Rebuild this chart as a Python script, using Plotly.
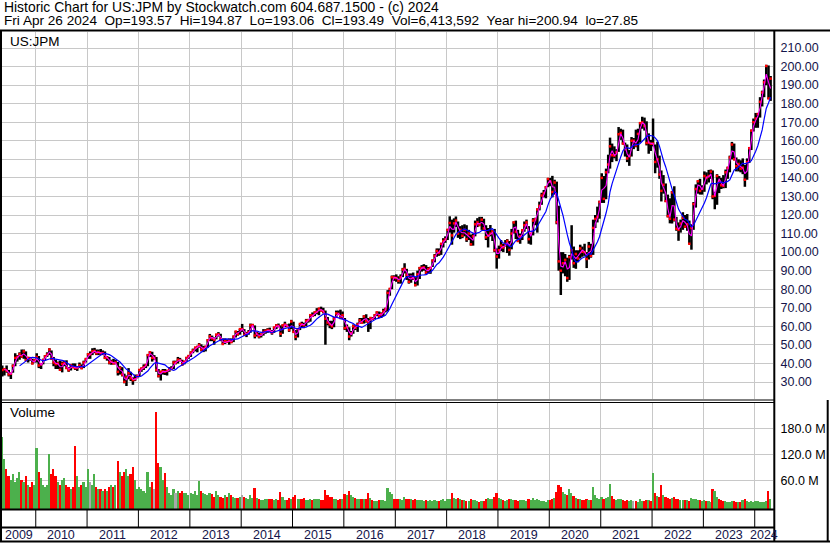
import plotly.graph_objects as go
import pandas as pd
from datetime import datetime

# ---------------- DATA (semi-monthly bars, May 2009 .. Apr 2024) ----------------
close = [
    36.5, 36.9, 36.0, 34.1, 34.5, 38.7, 43.0, 43.5, 45.0, 43.8, 46.5, 41.8, 43.0, 42.5, 40.0, 41.7,  # 2009
    43.5, 38.9, 39.5, 41.9, 43.8, 44.75, 47.5, 42.6, 40.5, 39.6, 40.0, 36.6, 39.8, 40.3, 37.5, 36.4, 39.0, 38.0, 37.5, 37.6, 39.0, 37.4, 40.5, 42.4,  # 2010
    44.9, 44.9, 46.5, 46.7, 45.5, 46.1, 45.5, 45.6, 43.0, 43.2, 40.5, 40.9, 40.0, 40.5, 35.5, 37.6, 34.0, 30.1, 32.5, 34.8, 32.0, 31.0, 31.5, 33.2,  # 2011
    36.5, 37.3, 38.0, 39.2, 44.5, 46.0, 43.0, 43.0, 36.5, 33.2, 35.5, 35.7, 35.5, 36.0, 37.0, 37.1, 40.5, 40.5, 42.0, 41.7, 39.5, 41.0, 43.0, 44.0,  # 2012
    45.9, 47.0, 48.5, 48.9, 50.0, 47.5, 48.0, 49.0, 52.5, 54.6, 53.5, 52.8, 55.5, 55.7, 53.0, 50.5, 52.0, 51.7, 52.5, 51.5, 54.5, 57.2, 55.8, 58.5,  # 2013
    58.5, 55.4, 56.0, 56.8, 60.5, 60.7, 55.0, 56.0, 54.5, 55.6, 57.0, 57.6, 58.0, 57.7, 56.5, 59.4, 60.5, 60.2, 56.0, 60.5, 61.0, 60.2, 58.0, 62.6,  # 2014
    57.0, 54.4, 58.5, 61.3, 61.0, 60.6, 63.0, 63.3, 66.0, 65.8, 67.5, 67.8, 69.5, 68.5, 68.0, 64.1, 62.0, 61.0, 60.0, 64.2, 67.0, 66.7, 64.5, 66.0,  # 2015
    59.0, 59.5, 54.5, 56.3, 60.0, 59.2, 61.0, 63.2, 62.0, 65.3, 63.0, 62.1, 64.5, 64.0, 66.0, 67.5, 65.5, 66.6, 68.0, 69.3, 78.0, 80.2, 86.5, 86.3,  # 2016
    86.0, 84.6, 86.5, 90.6, 91.0, 87.8, 84.0, 87.0, 86.0, 82.2, 88.0, 91.4, 91.5, 91.8, 89.0, 90.9, 91.5, 95.5, 98.0, 100.6, 99.5, 104.5, 106.0, 106.9,  # 2017
    112.0, 115.7, 109.0, 115.5, 117.0, 110.0, 112.0, 108.8, 112.0, 107.0, 110.0, 104.2, 108.5, 115.0, 116.0, 114.6, 117.5, 112.8, 108.0, 109.0, 110.0, 111.2, 101.0, 97.6,  # 2018
    101.0, 103.5, 102.5, 104.4, 106.0, 101.2, 110.0, 116.0, 111.0, 106.0, 108.5, 111.8, 114.5, 116.0, 107.0, 109.9, 117.0, 117.7, 123.0, 124.9, 130.5, 131.8, 135.0, 139.4,  # 2019
    138.0, 132.4, 137.5, 116.1, 95.0, 90.0, 94.0, 95.8, 86.0, 97.3, 101.0, 94.0, 99.0, 96.6, 102.0, 100.2, 100.0, 96.3, 103.0, 98.0, 113.0, 117.9, 119.0, 127.0,  # 2020
    140.0, 128.7, 143.0, 147.2, 157.0, 152.2, 152.0, 153.8, 163.5, 164.2, 158.5, 155.5, 150.5, 151.8, 160.0, 160.0, 157.5, 163.7, 169.5, 169.9, 168.0, 158.8, 159.0, 158.4,  # 2021
    158.5, 148.6, 150.0, 141.8, 133.0, 136.3, 127.5, 119.4, 118.0, 132.2, 117.5, 112.6, 112.0, 115.4, 118.5, 113.7, 115.0, 104.5, 113.0, 125.9, 134.0, 138.2, 133.0, 134.1,  # 2022
    141.0, 140.0, 141.0, 143.4, 130.0, 130.3, 141.0, 138.2, 136.0, 135.7, 143.0, 145.4, 151.0, 158.0, 150.0, 146.3, 147.5, 145.0, 145.5, 139.0, 148.5, 156.0, 165.5, 170.0,  # 2023
    172.0, 174.4, 181.0, 186.0, 191.5, 200.3, 182.8, 193.5,  # 2024
]
high = [
    38.9, 37.5, 38.9, 36.5, 35.0, 39.5, 45.5, 44.5, 46.0, 47.5, 47.5, 46.5, 43.5, 43.5, 42.5, 42.5,  # 2009
    45.5, 44.0, 40.0, 42.5, 44.5, 46.0, 48.2, 47.0, 43.5, 42.0, 41.0, 41.5, 41.0, 41.5, 41.7, 38.0, 39.5, 40.0, 40.0, 38.5, 40.5, 39.5, 41.5, 42.7,  # 2010
    45.5, 46.5, 48.2, 48.4, 47.5, 47.5, 47.8, 47.0, 46.5, 44.0, 43.5, 42.0, 42.5, 42.0, 40.8, 38.5, 38.0, 34.5, 33.5, 37.5, 35.5, 32.5, 34.0, 34.0,  # 2011
    37.0, 37.8, 39.5, 39.5, 45.0, 46.5, 46.3, 44.5, 43.5, 37.0, 36.0, 37.0, 37.0, 36.5, 38.0, 38.5, 41.5, 41.5, 43.5, 43.0, 42.0, 41.3, 43.5, 44.5,  # 2012
    46.5, 48.0, 49.0, 49.5, 51.0, 50.3, 49.5, 49.5, 53.0, 55.9, 55.0, 54.0, 56.0, 56.9, 56.0, 53.5, 53.5, 53.0, 53.5, 53.5, 55.0, 57.5, 57.5, 58.6,  # 2013
    61.3, 58.5, 57.0, 58.0, 61.5, 61.3, 60.5, 57.0, 56.5, 56.0, 58.5, 58.5, 59.0, 59.3, 58.0, 59.5, 61.2, 61.5, 60.5, 61.0, 62.5, 61.0, 61.5, 63.5,  # 2014
    62.5, 58.0, 59.0, 61.5, 62.5, 62.0, 64.0, 64.0, 66.5, 67.5, 68.0, 69.8, 70.0, 70.6, 70.0, 68.5, 65.0, 63.0, 63.0, 65.0, 68.5, 68.5, 69.0, 68.0,  # 2015
    64.5, 61.0, 59.5, 57.5, 61.0, 60.5, 62.0, 64.5, 64.5, 66.0, 66.5, 64.5, 64.5, 65.0, 66.5, 68.0, 68.0, 67.5, 69.5, 70.0, 79.5, 80.5, 87.4, 87.5,  # 2016
    88.0, 87.0, 88.0, 91.5, 94.0, 91.0, 88.5, 88.5, 89.0, 86.5, 90.0, 92.0, 93.0, 93.5, 93.0, 92.0, 92.0, 96.0, 99.0, 102.0, 102.0, 104.5, 107.5, 108.5,  # 2017
    112.5, 119.3, 117.5, 118.2, 119.2, 116.5, 114.0, 114.5, 115.0, 114.5, 112.0, 109.5, 110.0, 117.0, 118.3, 119.0, 119.0, 118.0, 114.5, 113.0, 114.6, 112.0, 112.5, 102.0,  # 2018
    103.5, 106.5, 104.5, 106.5, 107.0, 106.0, 112.5, 116.5, 117.0, 112.0, 110.0, 112.0, 116.5, 117.5, 114.0, 110.0, 118.3, 118.5, 123.5, 127.2, 132.0, 133.5, 135.5, 140.0,  # 2019
    140.0, 141.1, 139.0, 138.0, 125.0, 100.0, 100.0, 99.0, 97.0, 98.5, 114.5, 103.0, 101.0, 101.0, 104.0, 103.0, 104.5, 100.0, 105.5, 104.5, 117.5, 120.0, 124.5, 127.7,  # 2020
    142.5, 141.0, 145.0, 152.5, 161.7, 158.5, 157.0, 155.5, 167.4, 166.5, 166.0, 159.0, 158.0, 155.0, 162.0, 161.5, 166.0, 166.5, 170.0, 172.96, 172.5, 170.5, 164.0, 160.5,  # 2021
    172.0, 158.0, 159.5, 152.0, 144.0, 141.5, 137.0, 131.0, 129.0, 133.0, 135.5, 119.0, 116.0, 117.5, 121.5, 120.0, 120.5, 117.0, 115.0, 127.0, 136.5, 138.6, 139.5, 136.0,  # 2022
    143.5, 143.0, 144.3, 144.5, 144.0, 132.5, 142.0, 141.0, 140.0, 141.5, 144.5, 146.0, 152.0, 159.4, 158.5, 151.0, 150.0, 149.5, 150.5, 147.0, 150.5, 156.5, 166.0, 172.0,  # 2023
    175.0, 175.0, 183.5, 187.0, 193.0, 200.94, 200.6, 194.9,  # 2024
]
low = [
    33.0, 33.5, 35.0, 33.0, 31.6, 35.0, 38.5, 41.0, 42.0, 43.0, 42.5, 41.5, 40.5, 41.5, 39.5, 40.5,  # 2009
    40.5, 37.5, 37.0, 39.5, 41.5, 43.5, 44.5, 42.0, 38.5, 37.0, 37.0, 36.0, 35.2, 38.5, 37.0, 35.5, 36.2, 37.5, 36.5, 36.0, 37.5, 37.1, 37.5, 40.5,  # 2010
    42.5, 42.5, 44.5, 45.5, 44.5, 44.5, 44.5, 44.5, 42.5, 41.5, 39.5, 39.3, 39.5, 39.5, 33.5, 34.0, 33.0, 29.3, 27.85, 31.5, 30.5, 28.5, 30.5, 32.0,  # 2011
    33.0, 35.5, 36.5, 37.5, 38.5, 43.5, 41.0, 42.0, 35.5, 32.5, 30.8, 34.0, 33.8, 33.5, 35.5, 36.5, 37.0, 39.5, 40.0, 41.2, 38.8, 39.5, 41.0, 42.5,  # 2012
    43.5, 45.5, 46.5, 46.0, 48.5, 46.5, 46.1, 46.5, 48.5, 52.0, 52.0, 50.1, 53.0, 54.5, 52.0, 50.3, 50.5, 51.0, 50.1, 51.0, 51.5, 54.0, 55.0, 55.5,  # 2013
    57.0, 55.0, 54.2, 55.5, 56.5, 59.5, 53.5, 54.5, 53.5, 54.0, 55.0, 56.0, 56.5, 57.0, 55.5, 56.5, 58.5, 59.5, 54.3, 56.0, 59.5, 59.5, 57.0, 58.5,  # 2014
    56.5, 52.5, 54.0, 58.0, 59.5, 59.0, 60.2, 62.0, 62.5, 65.0, 65.5, 66.5, 66.0, 68.0, 67.0, 50.1, 60.5, 59.0, 58.5, 59.5, 64.5, 66.5, 64.0, 64.0,  # 2015
    58.0, 57.0, 52.5, 54.5, 56.0, 58.0, 57.0, 61.5, 61.5, 61.5, 62.0, 57.0, 58.5, 63.5, 64.0, 65.5, 64.5, 64.5, 65.5, 67.5, 68.0, 76.5, 80.0, 84.5,  # 2016
    84.0, 83.0, 83.0, 86.5, 88.5, 85.0, 83.0, 83.5, 85.0, 81.6, 82.0, 85.5, 89.5, 90.0, 88.0, 88.5, 88.3, 92.0, 94.5, 97.5, 98.0, 98.5, 102.5, 105.0,  # 2017
    106.5, 110.5, 104.0, 110.5, 113.5, 107.7, 107.0, 107.5, 108.5, 105.5, 106.5, 103.5, 103.5, 108.5, 113.5, 114.0, 112.0, 112.0, 106.5, 102.5, 108.5, 106.0, 100.0, 91.1,  # 2018
    96.5, 100.5, 100.0, 103.0, 99.5, 98.1, 101.5, 110.0, 107.0, 105.5, 104.5, 106.5, 111.0, 112.5, 104.5, 104.0, 109.0, 114.5, 110.5, 122.5, 125.5, 129.5, 129.0, 135.0,  # 2019
    135.5, 129.5, 131.0, 115.0, 90.0, 76.9, 88.5, 87.0, 84.0, 85.0, 96.0, 91.5, 91.0, 94.5, 96.5, 97.5, 98.0, 91.4, 96.0, 97.0, 98.5, 113.0, 116.0, 118.0,  # 2020
    126.5, 126.5, 128.5, 142.5, 145.0, 148.5, 150.5, 149.0, 154.0, 160.5, 158.0, 151.5, 148.5, 146.5, 151.5, 155.5, 156.5, 154.5, 159.0, 166.5, 165.5, 157.5, 153.0, 154.5,  # 2021
    157.0, 142.5, 145.5, 139.5, 127.3, 131.5, 127.0, 118.7, 115.5, 115.4, 116.5, 111.5, 106.1, 110.5, 112.0, 113.0, 111.5, 104.4, 101.3, 112.0, 124.0, 131.5, 131.0, 131.0,  # 2022
    132.5, 136.5, 137.5, 139.5, 128.5, 123.1, 125.5, 131.8, 134.0, 134.4, 134.5, 139.5, 143.0, 150.0, 149.5, 143.5, 143.5, 143.0, 142.0, 135.2, 139.0, 148.0, 155.0, 165.0,  # 2023
    167.0, 167.0, 172.5, 178.5, 183.5, 190.0, 182.5, 181.5,  # 2024
]
volume_m = [
    160, 110, 85, 70, 60, 75, 55, 65, 80, 60, 55, 70, 50, 45, 55, 50,  # 2009
    135, 80, 65, 50, 45, 50, 120, 75, 85, 70, 55, 50, 60, 65, 50, 45, 40, 45, 140, 70, 45, 50, 55, 45,  # 2010
    85, 55, 50, 75, 45, 40, 40, 35, 40, 35, 45, 50, 45, 50, 105, 80, 70, 80, 85, 70, 75, 90, 60, 40,  # 2011
    45, 40, 35, 30, 80, 45, 55, 40, 218, 100, 90, 60, 78, 45, 30, 25, 40, 30, 35, 30, 35, 30, 30, 25,  # 2012
    30, 28, 35, 25, 58, 35, 30, 28, 25, 30, 28, 22, 35, 25, 22, 20, 25, 22, 30, 25, 22, 20, 20, 22,  # 2013
    25, 22, 20, 18, 25, 20, 42, 20, 18, 15, 15, 17, 18, 16, 16, 14, 16, 15, 32, 22, 15, 14, 20, 18,  # 2014
    22, 25, 18, 16, 18, 20, 15, 14, 16, 14, 16, 18, 16, 15, 14, 38, 25, 22, 22, 18, 16, 15, 18, 16,  # 2015
    28, 26, 35, 25, 22, 20, 18, 16, 16, 18, 18, 30, 20, 14, 13, 12, 15, 14, 14, 13, 42, 32, 28, 18,  # 2016
    18, 16, 16, 14, 22, 18, 18, 16, 14, 18, 15, 14, 14, 12, 14, 13, 14, 12, 14, 13, 13, 14, 16, 12,  # 2017
    16, 18, 30, 20, 16, 20, 18, 14, 14, 13, 13, 18, 14, 15, 12, 11, 13, 12, 18, 20, 16, 17, 22, 30,  # 2018
    20, 16, 14, 13, 14, 16, 18, 14, 14, 12, 14, 15, 14, 12, 16, 14, 20, 15, 16, 14, 12, 12, 11, 14,  # 2019
    14, 16, 20, 32, 49, 45, 32, 28, 25, 40, 30, 24, 20, 18, 16, 15, 14, 16, 15, 14, 44, 26, 20, 16,  # 2020
    22, 18, 20, 22, 51, 24, 16, 14, 18, 16, 14, 12, 15, 13, 14, 12, 12, 11, 16, 13, 12, 14, 15, 13,  # 2021
    78, 30, 24, 22, 50, 25, 22, 20, 18, 20, 22, 18, 18, 14, 15, 14, 14, 13, 20, 18, 16, 15, 14, 13,  # 2022
    14, 12, 12, 11, 40, 36, 22, 18, 14, 12, 12, 11, 11, 12, 13, 10, 11, 10, 14, 16, 12, 11, 12, 11,  # 2023
    13, 12, 11, 10, 11, 12, 35, 16,  # 2024
]
price_ticks = list(range(30, 211, 10))
volume_ticks = [60, 120, 180]
volume_tick_labels = ["60.0 M", "120.0 M", "180.0 M"]
years = list(range(2009, 2025))

header1 = "Historic Chart for US:JPM by Stockwatch.com 604.687.1500 - (c) 2024"
header2 = ("Fri Apr 26 2024 \u00a0Op=193.57 \u00a0Hi=194.87 \u00a0Lo=193.06 \u00a0Cl=193.49 "
           "\u00a0Vol=6,413,592 \u00a0Year hi=200.94 \u00a0lo=27.85")

# ---------------- dates: two bars per month ----------------
dates = []
for y in range(2009, 2025):
    for m in range(1, 13):
        if (y, m) < (2009, 5) or (y, m) > (2024, 4):
            continue
        dates.append(datetime(y, m, 8))
        dates.append(datetime(y, m, 23))

n = min(len(dates), len(close), len(high), len(low), len(volume_m))
dates, close, high, low, volume_m = dates[:n], close[:n], high[:n], low[:n], volume_m[:n]

s = pd.Series(close)
ma_fast = s.rolling(2).mean()
ma_slow = s.rolling(9).mean()

# ---------------- geometry helpers ----------------
W, H = 830, 543
def px(x):
    return x / W
def py(y):
    return 1 - y / H

XMIN, XMAX = datetime(2009, 5, 6), datetime(2024, 5, 10)
PRICE_RANGE = [20.84, 218.62]
VOL_RANGE = [-6.2, 238.4]
VBASE = VOL_RANGE[0]

fig = go.Figure()

# high-low bars
hx, hy = [], []
for d, lo_, hi_ in zip(dates, low, high):
    hx += [d, d, None]
    hy += [lo_, hi_, None]
fig.add_trace(go.Scatter(x=hx, y=hy, mode="lines", line=dict(color="black", width=2.5),
                         connectgaps=False, hoverinfo="skip", xaxis="x", yaxis="y"))
# close marks
fig.add_trace(go.Scatter(x=dates, y=close, mode="markers",
                         marker=dict(symbol="square", size=2.5, color="#ff0000", line=dict(width=0)),
                         xaxis="x", yaxis="y"))
# moving averages
fig.add_trace(go.Scatter(x=dates, y=ma_fast, mode="lines", line=dict(color="#ff00ff", width=1.1),
                         xaxis="x", yaxis="y"))
fig.add_trace(go.Scatter(x=dates, y=ma_slow, mode="lines", line=dict(color="#0000ff", width=1.2),
                         xaxis="x", yaxis="y"))

# volume
vcolors = []
for i, c in enumerate(close):
    if i == 0 or c > close[i - 1]:
        vcolors.append("#4cb04c")
    elif c < close[i - 1]:
        vcolors.append("#ff0000")
    else:
        vcolors.append("#a8a8a8")
fig.add_trace(go.Bar(x=dates, y=[v - VBASE for v in volume_m], base=VBASE,
                     marker=dict(color=vcolors, line=dict(width=0)),
                     width=12 * 24 * 3600 * 1000, xaxis="x2", yaxis="y2"))

grid = "#c8c8c8"
tickfont = dict(family="Arial, Liberation Sans, sans-serif", size=12.5, color="#14144a")
common_x = dict(type="date", range=[XMIN, XMAX], domain=[px(2), px(773)],
                showgrid=True, gridcolor=grid, gridwidth=1,
                tick0="2010-01-01", dtick="M12", showticklabels=False, ticks="",
                zeroline=False, showline=False)
fig.update_layout(
    width=W, height=H, margin=dict(l=0, r=0, t=0, b=0),
    paper_bgcolor="white", plot_bgcolor="white", showlegend=False, bargap=0,
    xaxis=dict(**common_x, anchor="y"),
    xaxis2=dict(**common_x, anchor="y2", matches="x"),
    yaxis=dict(domain=[py(399), py(32)], range=PRICE_RANGE, side="right",
               tickvals=price_ticks, tickformat=".2f", ticks="outside", ticklen=4,
               tickcolor="rgba(0,0,0,0)", tickfont=tickfont,
               showgrid=True, gridcolor=grid, zeroline=False, showline=False),
    yaxis2=dict(domain=[py(509), py(403)], range=VOL_RANGE, side="right",
                tickvals=volume_ticks, ticktext=volume_tick_labels, ticks="outside", ticklen=4,
                tickcolor="rgba(0,0,0,0)", tickfont=dict(tickfont, color="black"),
                showgrid=True, gridcolor=grid, zeroline=False, showline=False),
)

fam = "Arial, Liberation Sans, sans-serif"
ann = [
    dict(text=header1, x=px(3), y=py(6.5), xref="paper", yref="paper", xanchor="left",
         yanchor="middle", showarrow=False, borderpad=0,
         font=dict(family=fam, size=13.9, color="black")),
    dict(text=header2, x=px(3), y=py(20.5), xref="paper", yref="paper", xanchor="left",
         yanchor="middle", showarrow=False, borderpad=0,
         font=dict(family=fam, size=13.6, color="black")),
    dict(text="US:JPM", x=px(8), y=py(41), xref="paper", yref="paper", xanchor="left",
         yanchor="middle", showarrow=False, font=dict(family=fam, size=13.5, color="black")),
    dict(text="Volume", x=px(8), y=py(413), xref="paper", yref="paper", xanchor="left",
         yanchor="middle", showarrow=False, font=dict(family=fam, size=13.5, color="black")),
]
for yr in years:
    a = max(datetime(yr, 1, 1), XMIN)
    b = min(datetime(yr + 1, 1, 1), XMAX)
    mid = a + (b - a) / 2
    ann.append(dict(text=str(yr), x=mid, y=py(535), xref="x2", yref="paper",
                    xanchor="center", yanchor="middle", showarrow=False,
                    font=dict(family=fam, size=12.5, color="#14144a")))
fig.update_layout(annotations=ann)

shapes = []
def hline(y, x0, x1, w):
    shapes.append(dict(type="line", xref="paper", yref="paper", x0=px(x0), x1=px(x1),
                       y0=py(y), y1=py(y), line=dict(color="black", width=w)))
def vline(x, y0, y1, w):
    shapes.append(dict(type="line", xref="paper", yref="paper", x0=px(x), x1=px(x),
                       y0=py(y0), y1=py(y1), line=dict(color="black", width=w)))
hline(30.5, 0, 830, 2)
hline(400, 0, 774, 1)
hline(402.5, 0, 774, 1)
hline(509.5, 0, 774, 2)
hline(527.5, 0, 774, 2)
hline(541.5, 0, 830, 2)
vline(1, 30, 542, 2)
vline(774.3, 30, 542, 2)
vline(827.7, 400, 542, 2)
for yr in years[1:]:
    shapes.append(dict(type="line", xref="x2", yref="paper", x0=datetime(yr, 1, 1),
                       x1=datetime(yr, 1, 1), y0=py(527), y1=py(510),
                       line=dict(color="black", width=1)))
fig.update_layout(shapes=shapes)

fig.write_html("out.html", config={"displayModeBar": False},
               post_script="document.body.style.margin='0';document.body.style.padding='0';")
